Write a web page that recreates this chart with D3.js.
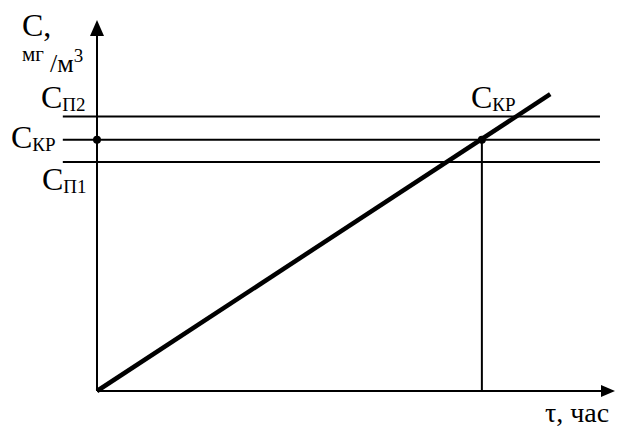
<!DOCTYPE html>
<html>
<head>
    <meta charset="utf-8">
    <title>C(τ)</title>
    <script src="https://cdnjs.cloudflare.com/ajax/libs/d3/7.8.5/d3.min.js"></script>
    <style>
        body { margin: 0; background: #fff; }
        svg text { font-family: "Liberation Serif", "Times New Roman", "DejaVu Serif", serif; fill: #000; }
    </style>
</head>
<body>
    <div id="chart"></div>
    <script>
        // levels of concentration (arbitrary units)
        const levels = [
            { name: "П2", value: 74.0 },
            { name: "КР", value: 67.7 },
            { name: "П1", value: 61.7 }
        ];
        // growth line C(τ)
        const lineTau = [0, 87.5];
        const lineC = [0, 80];
        // critical time where the line reaches C_KP
        const tauKP = [74.3];
        const levelSpan = [-6.6, 97.1];

        const width = 620, height = 427;
        const svg = d3.select('#chart').append('svg')
            .attr('width', width).attr('height', height)
            .attr('font-family', '"Liberation Serif", "Times New Roman", serif');

        const x = d3.scaleLinear().domain([0, 100]).range([97, 615]);
        const y = d3.scaleLinear().domain([0, 100]).range([391, 20]);

        // axes
        svg.append('line')
            .attr('x1', x(0)).attr('y1', y(0))
            .attr('x2', x(0)).attr('y2', y(100) + 10)
            .attr('stroke', '#000').attr('stroke-width', 2);
        svg.append('path')
            .attr('d', `M${x(0)},${y(100)} L${x(0) - 7},${y(100) + 16} L${x(0) + 7},${y(100) + 16} Z`)
            .attr('fill', '#000');
        svg.append('line')
            .attr('x1', x(0)).attr('y1', y(0))
            .attr('x2', x(100) - 10).attr('y2', y(0))
            .attr('stroke', '#000').attr('stroke-width', 2);
        svg.append('path')
            .attr('d', `M${x(100)},${y(0)} L${x(100) - 14},${y(0) - 6} L${x(100) - 14},${y(0) + 6} Z`)
            .attr('fill', '#000');

        // horizontal levels
        svg.selectAll('.level')
            .data(levels)
            .enter().append('line')
            .attr('class', 'level')
            .attr('x1', x(levelSpan[0])).attr('x2', x(levelSpan[1]))
            .attr('y1', d => y(d.value)).attr('y2', d => y(d.value))
            .attr('stroke', '#000').attr('stroke-width', 2);

        // vertical from critical point
        const cKP = levels[1].value;
        svg.append('line')
            .attr('x1', x(tauKP[0])).attr('x2', x(tauKP[0]))
            .attr('y1', y(0)).attr('y2', y(cKP))
            .attr('stroke', '#000').attr('stroke-width', 2);

        // growth line
        const pts = lineTau.map((t, i) => [t, lineC[i]]);
        svg.append('path')
            .datum(pts)
            .attr('d', d3.line().x(d => x(d[0])).y(d => y(d[1])))
            .attr('stroke', '#000').attr('stroke-width', 4.5).attr('fill', 'none');

        // points
        svg.selectAll('.pt')
            .data([[0, cKP], [tauKP[0], cKP]])
            .enter().append('circle')
            .attr('cx', d => x(d[0])).attr('cy', d => y(d[1]))
            .attr('r', 4).attr('fill', '#000');

        // labels with subscripts
        function subLabel(px, py, sub) {
            const t = svg.append('text').attr('x', px).attr('y', py).style('font-size', '32px');
            t.append('tspan').text('C');
            t.append('tspan').attr('dy', 3).style('font-size', '19px').text(sub);
        }
        subLabel(41, 108, 'П2');
        subLabel(11, 148, 'КР');
        subLabel(42, 190, 'П1');
        subLabel(471, 108, 'КР');

        // y axis title
        svg.append('text').attr('x', 22).attr('y', 36).style('font-size', '32px').text('C,');
        svg.append('text').attr('x', 22).attr('y', 61).style('font-size', '21px').text('мг');
        const unit = svg.append('text').attr('x', 50).attr('y', 72).style('font-size', '26px');
        unit.append('tspan').text('/м');
        unit.append('tspan').attr('dy', -10).style('font-size', '19px').text('3');

        // x axis title
        svg.append('text').attr('x', 545).attr('y', 422).style('font-size', '28px').text('τ, час');
    </script>
</body>
</html>
